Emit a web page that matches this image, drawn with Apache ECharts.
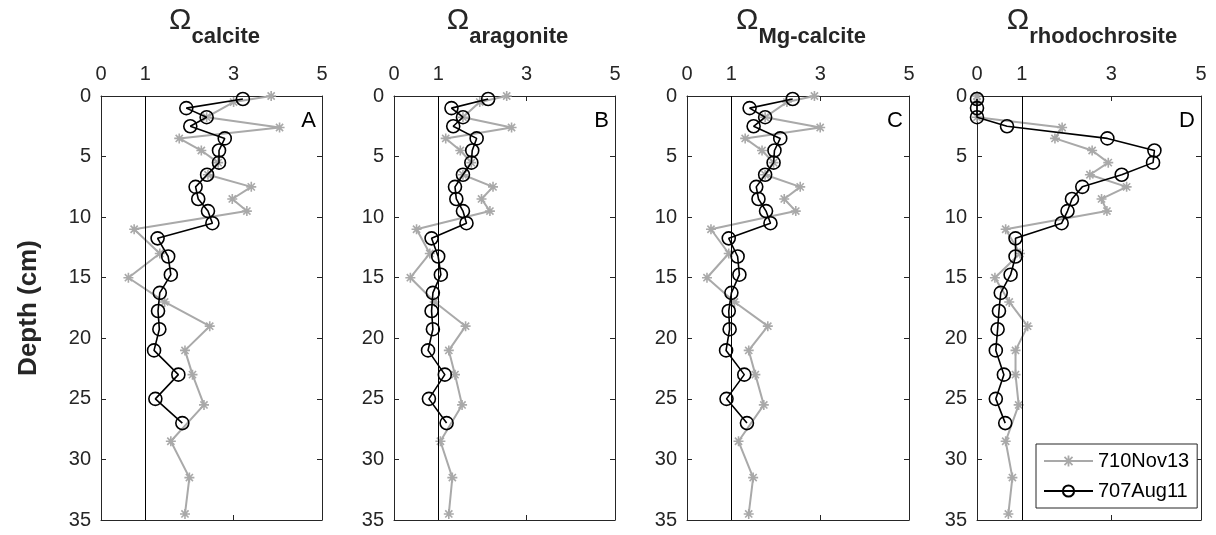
<!DOCTYPE html>
<html>
<head>
<meta charset="utf-8">
<script src="https://cdn.jsdelivr.net/npm/echarts@6/dist/echarts.min.js"></script>
<style>
html,body{margin:0;padding:0;background:#fff;}
#chart{width:1216px;height:535px;}
</style>
</head>
<body>
<div id="chart"></div>
<script>
// ---- data ----
const panelTitles = ['calcite', 'aragonite', 'Mg-calcite', 'rhodochrosite'];
const panelLetters = ['A', 'B', 'C', 'D'];
const seriesNames = ['710Nov13', '707Aug11'];
const xTickValues = [0, 1, 3, 5];
const depthTicks = [0, 5, 10, 15, 20, 25, 30, 35];

const depthNov = [0, 0.5, 1.75, 2.6, 3.5, 4.5, 5.5, 6.5, 7.5, 8.5, 9.5, 11, 13, 15, 17, 19, 21, 23, 25.5, 28.5, 31.5, 34.5];
const depthAug = [0.25, 1, 1.75, 2.5, 3.5, 4.5, 5.5, 6.5, 7.5, 8.5, 9.5, 10.5, 11.75, 13.25, 14.75, 16.25, 17.75, 19.25, 21, 23, 25, 27];

const calciteNov = [3.85, 3.0, 2.39, 4.04, 1.77, 2.27, 2.65, 2.42, 3.4, 2.97, 3.3, 0.75, 1.33, 0.62, 1.44, 2.46, 1.9, 2.07, 2.33, 1.58, 2.0, 1.9];
const calciteAug = [3.21, 1.93, 2.39, 2.02, 2.8, 2.67, 2.67, 2.4, 2.14, 2.2, 2.42, 2.52, 1.28, 1.52, 1.58, 1.33, 1.29, 1.32, 1.2, 1.75, 1.23, 1.84];

const aragoniteNov = [2.55, 1.94, 1.56, 2.66, 1.17, 1.5, 1.75, 1.56, 2.24, 1.98, 2.17, 0.51, 0.81, 0.37, 0.92, 1.62, 1.24, 1.38, 1.54, 1.05, 1.32, 1.24];
const aragoniteAug = [2.13, 1.3, 1.56, 1.34, 1.87, 1.77, 1.75, 1.56, 1.38, 1.41, 1.56, 1.64, 0.85, 1.0, 1.06, 0.88, 0.85, 0.88, 0.77, 1.15, 0.79, 1.19];

const mgCalciteNov = [2.87, 2.25, 1.76, 3.0, 1.31, 1.69, 1.95, 1.76, 2.55, 2.19, 2.45, 0.54, 0.94, 0.45, 1.07, 1.82, 1.39, 1.54, 1.73, 1.16, 1.49, 1.39];
const mgCalciteAug = [2.38, 1.41, 1.76, 1.5, 2.1, 1.97, 1.95, 1.76, 1.56, 1.61, 1.78, 1.88, 0.94, 1.14, 1.18, 1.0, 0.94, 0.96, 0.88, 1.29, 0.89, 1.35];

const rhodoNov = [0, 0, 0, 1.9, 1.74, 2.57, 2.93, 2.52, 3.34, 2.78, 2.9, 0.64, 0.96, 0.4, 0.72, 1.13, 0.86, 0.86, 0.93, 0.64, 0.79, 0.7];
const rhodoAug = [0, 0, 0, 0.67, 2.91, 3.96, 3.93, 3.23, 2.35, 2.12, 2.02, 1.89, 0.86, 0.86, 0.75, 0.53, 0.49, 0.46, 0.42, 0.6, 0.42, 0.63];

const novValues = [calciteNov, aragoniteNov, mgCalciteNov, rhodoNov];
const augValues = [calciteAug, aragoniteAug, mgCalciteAug, rhodoAug];

// ---- layout / style ----
const gridLefts = [101, 394, 687, 977];
const gridWidths = [221, 221, 222, 224];
const gridTop = 96, gridHeight = 424;
const axisColor = '#262626';
const greyColor = '#a9a9a9';
const fontName = 'Liberation Sans';
const font = "'Liberation Sans', Arial, sans-serif";
const asterisk = 'path://M8.4,0L11.6,0L11.6,20L8.4,20Z M0,8.4L20,8.4L20,11.6L0,11.6Z M3.96,1.70L18.30,16.04L16.04,18.30L1.70,3.96Z M16.04,1.70L18.30,3.96L3.96,18.30L1.70,16.04Z';

const omegaSize = 30, subSize = 22;
const measureCtx = document.createElement('canvas').getContext('2d');
function textWidth(t, f) { measureCtx.font = f; return measureCtx.measureText(t).width; }

const chart = echarts.init(document.getElementById('chart'), null, {renderer: 'canvas'});

const grids = [], xAxes = [], yAxes = [], series = [], graphics = [];
const zip = (ys, xs) => ys.map((d, i) => [xs[i], d]);

for (let p = 0; p < 4; p++) {
  grids.push({left: gridLefts[p], width: gridWidths[p], top: gridTop, height: gridHeight, containLabel: false});
  const baseX = {
    gridIndex: p, type: 'value', min: 0, max: 5, interval: 1,
    splitLine: {show: false},
    axisLine: {show: true, onZero: false, lineStyle: {color: axisColor, width: 1}},
    axisTick: {show: true, inside: true, length: 5, customValues: xTickValues, lineStyle: {color: axisColor}},
  };
  xAxes.push(Object.assign({}, baseX, {
    position: 'top',
    axisLabel: {show: true, customValues: xTickValues, color: axisColor, fontSize: 20, fontFamily: font, margin: 12}
  }));
  xAxes.push(Object.assign({}, baseX, {position: 'bottom', axisLabel: {show: false}}));
  const baseY = {
    gridIndex: p, type: 'value', min: 0, max: 35, interval: 5, inverse: true,
    splitLine: {show: false},
    axisLine: {show: true, onZero: false, lineStyle: {color: axisColor, width: 1}},
    axisTick: {show: true, inside: true, length: 5, lineStyle: {color: axisColor}},
  };
  yAxes.push(Object.assign({}, baseY, {
    position: 'left',
    axisLabel: {show: true, customValues: depthTicks, color: axisColor, fontSize: 20, fontFamily: font, margin: 10}
  }));
  yAxes.push(Object.assign({}, baseY, {position: 'right', axisLabel: {show: false}}));

  series.push({
    name: seriesNames[0], type: 'line', xAxisIndex: p * 2, yAxisIndex: p * 2,
    data: zip(depthNov, novValues[p]),
    symbol: asterisk, symbolSize: 10, clip: false,
    lineStyle: {color: greyColor, width: 2},
    itemStyle: {color: greyColor, borderWidth: 0},
    emphasis: {disabled: true}, z: 3,
    markLine: {
      silent: true, symbol: 'none', label: {show: false},
      lineStyle: {color: '#000', width: 1, type: 'solid'},
      data: [{xAxis: 1}], animation: false
    }
  });
  series.push({
    name: seriesNames[1], type: 'line', xAxisIndex: p * 2, yAxisIndex: p * 2,
    data: zip(depthAug, augValues[p]),
    symbol: 'circle', symbolSize: 13, clip: false,
    lineStyle: {color: '#000', width: 1.6},
    itemStyle: {color: 'rgba(0,0,0,0)', borderColor: '#000', borderWidth: 1.6},
    emphasis: {disabled: true}, z: 4
  });

  // title: Omega with bold subscript
  const cx = gridLefts[p] + gridWidths[p] / 2 + 3;
  const wO = textWidth('Ω', omegaSize + 'px ' + fontName);
  const wS = textWidth(panelTitles[p], 'bold ' + subSize + 'px ' + fontName);
  const startX = cx - (wO + wS) / 2;
  graphics.push({
    type: 'text', x: startX, y: 21, silent: true,
    style: {text: 'Ω', fontSize: omegaSize, fontFamily: font, fill: axisColor, align: 'left', verticalAlign: 'middle'}
  });
  graphics.push({
    type: 'text', x: startX + wO, y: 37, silent: true,
    style: {text: panelTitles[p], fontSize: subSize, fontWeight: 'bold', fontFamily: font, fill: axisColor, align: 'left', verticalAlign: 'middle'}
  });
  graphics.push({
    type: 'text', x: gridLefts[p] + gridWidths[p] - 6, y: gridTop + 25, silent: true,
    style: {text: panelLetters[p], fontSize: 22, fontFamily: font, fill: '#000', align: 'right', verticalAlign: 'middle'}
  });
}

graphics.push({
  type: 'text', x: 29, y: gridTop + gridHeight / 2, rotation: Math.PI / 2, silent: true,
  style: {text: 'Depth (cm)', fontSize: 26, fontWeight: 'bold', fontFamily: font, fill: axisColor, align: 'center', verticalAlign: 'middle'}
});

chart.setOption({
  backgroundColor: '#fff',
  animation: false,
  grid: grids,
  xAxis: xAxes,
  yAxis: yAxes,
  legend: {
    data: seriesNames,
    orient: 'vertical',
    left: 1036, top: 444,
    padding: [7, 8, 7, 7],
    itemWidth: 49, itemHeight: 14, itemGap: 10,
    borderColor: axisColor, borderWidth: 1, backgroundColor: '#fff',
    textStyle: {fontSize: 20, fontFamily: font, color: '#000', lineHeight: 20},
    selectedMode: false
  },
  series: series,
  graphic: graphics
});
</script>
</body>
</html>
